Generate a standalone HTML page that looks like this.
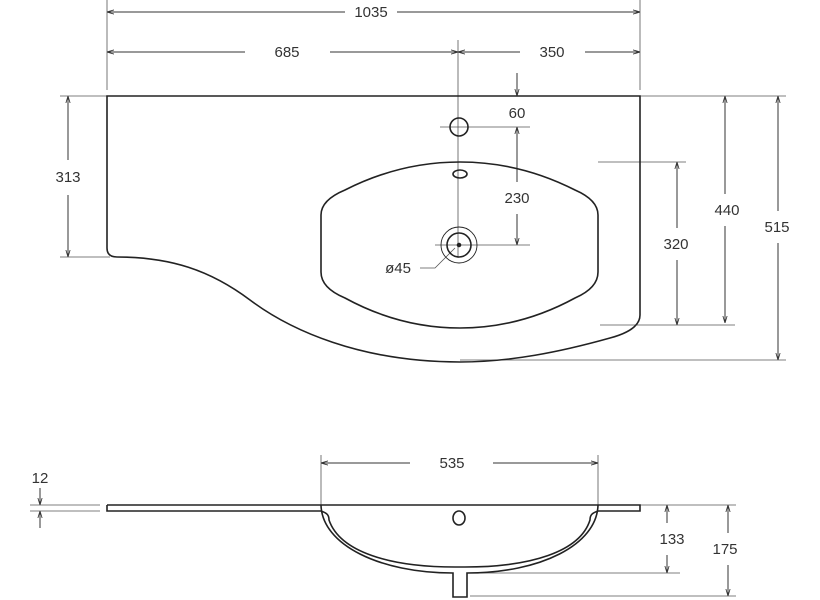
<!DOCTYPE html>
<html><head><style>body{margin:0;background:#fff}svg{display:block}text{font-family:"Liberation Sans",sans-serif;font-size:15px;fill:#333;text-anchor:middle}</style></head><body>
<svg width="820" height="600" viewBox="0 0 820 600" xmlns="http://www.w3.org/2000/svg">
<defs><marker id="a" viewBox="0 0 10 10" refX="10" refY="5" markerWidth="7" markerHeight="7" orient="auto"><path d="M0,2 L10,5 L0,8" fill="none" stroke="#333" stroke-width="1.2"/></marker></defs>
<g stroke="#555" stroke-width="0.8" fill="none">
<line x1="107" y1="0" x2="107" y2="90"/><line x1="640" y1="0" x2="640" y2="90"/>
<line x1="458" y1="40" x2="458" y2="258"/>
<line x1="60" y1="96" x2="107" y2="96"/><line x1="60" y1="257" x2="110" y2="257"/>
<line x1="640" y1="96" x2="786" y2="96"/><line x1="598" y1="162" x2="686" y2="162"/>
<line x1="600" y1="325" x2="735" y2="325"/><line x1="460" y1="360" x2="786" y2="360"/>
<line x1="440" y1="127" x2="530" y2="127"/><line x1="435" y1="245" x2="530" y2="245"/>
<line x1="321" y1="455" x2="321" y2="505"/><line x1="598" y1="455" x2="598" y2="505"/>
<line x1="30" y1="505" x2="100" y2="505"/><line x1="30" y1="511" x2="100" y2="511"/>
<line x1="640" y1="505" x2="736" y2="505"/><line x1="470" y1="573" x2="680" y2="573"/><line x1="470" y1="596" x2="736" y2="596"/>
<path d="M420,268 L435,268 L455,248"/>
</g>
<!-- each line drawn from text side toward the arrow end -->
<g stroke="#333" stroke-width="1" fill="none" marker-end="url(#a)">
<line x1="345" y1="12" x2="107" y2="12"/><line x1="397" y1="12" x2="640" y2="12"/>
<line x1="245" y1="52" x2="107" y2="52"/><line x1="330" y1="52" x2="458" y2="52"/>
<line x1="520" y1="52" x2="458" y2="52"/><line x1="585" y1="52" x2="640" y2="52"/>
<line x1="68" y1="160" x2="68" y2="96"/><line x1="68" y1="195" x2="68" y2="257"/>
<line x1="517" y1="73" x2="517" y2="96"/>
<line x1="517" y1="182" x2="517" y2="127"/><line x1="517" y1="214" x2="517" y2="245"/>
<line x1="677" y1="228" x2="677" y2="162"/><line x1="677" y1="260" x2="677" y2="325"/>
<line x1="725" y1="194" x2="725" y2="96"/><line x1="725" y1="226" x2="725" y2="323"/>
<line x1="778" y1="211" x2="778" y2="96"/><line x1="778" y1="243" x2="778" y2="360"/>
<line x1="410" y1="463" x2="321" y2="463"/><line x1="493" y1="463" x2="598" y2="463"/>
<line x1="40" y1="488" x2="40" y2="505"/><line x1="40" y1="528" x2="40" y2="511"/>
<line x1="667" y1="523" x2="667" y2="505"/><line x1="667" y1="555" x2="667" y2="573"/>
<line x1="728" y1="533" x2="728" y2="505"/><line x1="728" y1="565" x2="728" y2="596"/>
</g>
<g stroke="#222" stroke-width="1.6" fill="none">
<path d="M107,96 L640,96 L640,315 Q640,330 610,338 C560,352 510,362 460,362 C360,362 290,330 250,300 C210,270 170,257 117,257 Q107,257 107,248 Z"/>
<path d="M321,215 Q321,200 345,190 Q400,162 460,162 Q520,162 575,190 Q598,200 598,215 L598,272 Q598,288 575,298 Q520,328 460,328 Q400,328 345,298 Q321,288 321,272 Z"/>
<circle cx="459" cy="127" r="9"/>
<ellipse cx="460" cy="174" rx="7" ry="4"/>
<circle cx="459" cy="245" r="12"/>
<circle cx="459" cy="245" r="18" stroke-width="0.9"/>
<circle cx="459" cy="245" r="1.5" fill="#222"/>
<path d="M107,505 L640,505 L640,511 L598,511"/>
<path d="M107,505 L107,511 L321,511"/>
<path d="M321,505 C322,545 380,573 453,573 L453,597 L467,597 L467,573 C540,573 597,545 598,505"/>
<path d="M321,511 C327,513 329,515 329,520 C340,552 390,567 455,567 L465,567 C530,567 580,552 590,520 C590,515 592,513 598,511"/>
<ellipse cx="459" cy="518" rx="6" ry="7"/>
</g>
<g>
<text x="371" y="17">1035</text>
<text x="287" y="57">685</text>
<text x="552" y="57">350</text>
<text x="68" y="182">313</text>
<text x="517" y="118">60</text>
<text x="517" y="203">230</text>
<text x="676" y="249">320</text>
<text x="727" y="215">440</text>
<text x="777" y="232">515</text>
<text x="398" y="273">ø45</text>
<text x="452" y="468">535</text>
<text x="40" y="483">12</text>
<text x="672" y="544">133</text>
<text x="725" y="554">175</text>
</g>
</svg>
</body></html>
